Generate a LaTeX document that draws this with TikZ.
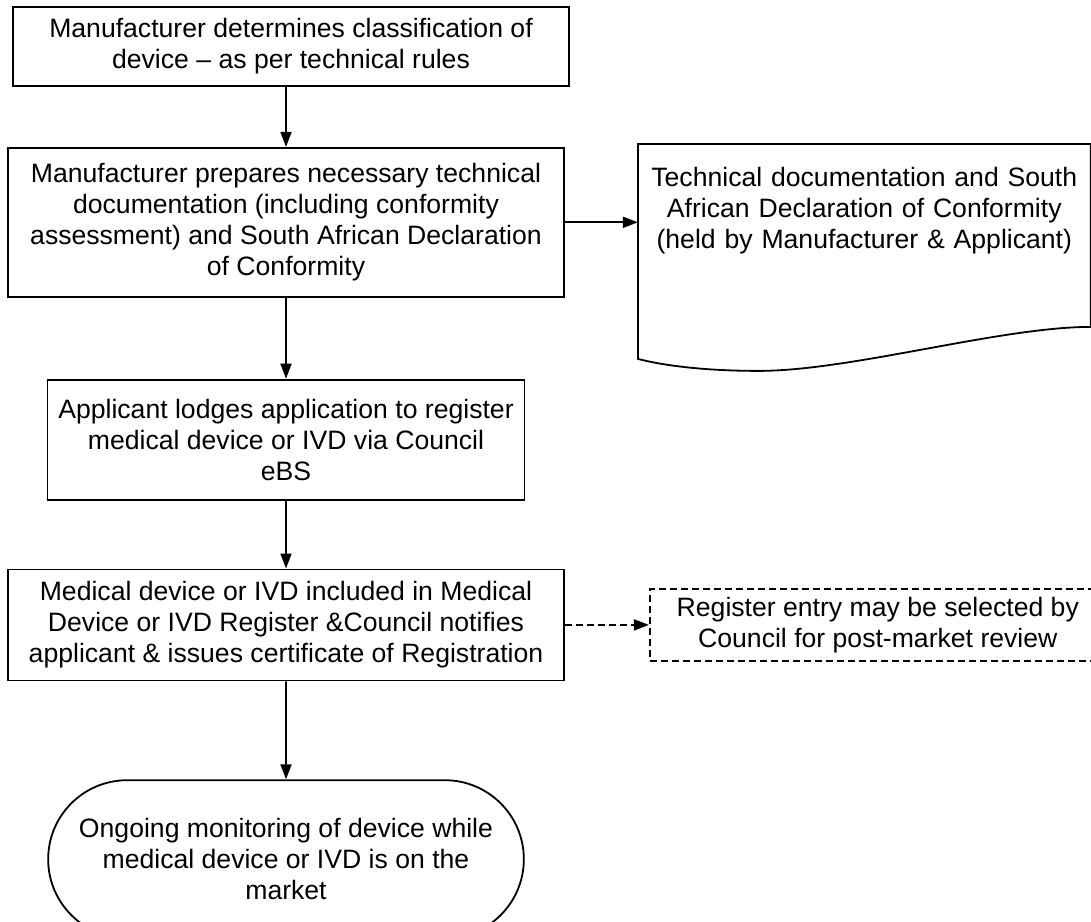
\documentclass[tikz,border=0pt]{standalone}
\usepackage{fontspec}
\setmainfont{Liberation Sans}
\usetikzlibrary{shapes.misc, arrows.meta, positioning}

\begin{document}
\begin{tikzpicture}[
    node distance=30pt,
    >={Triangle[length=7.5pt,width=5.5pt]},
    every node/.style={font=\fontsize{13.3pt}{15.5pt}\selectfont},
    process/.style={
        rectangle,
        draw=black,
        line width=0.9pt,
        align=center,
        inner sep=2pt,
        minimum width=278pt
    },
    record/.style={
        rectangle,
        align=center,
        inner xsep=0pt,
        inner ysep=11.5pt,
        text width=226pt
    },
    note/.style={
        rectangle,
        draw=black,
        dash pattern=on 3.5pt off 2pt,
        line width=0.9pt,
        align=center,
        minimum width=228pt,
        minimum height=36pt
    },
    terminal/.style={
        rounded rectangle,
        draw=black,
        line width=0.9pt,
        align=center,
        minimum width=244.5pt,
        minimum height=79pt
    }
]

    \useasboundingbox (0,0) rectangle (545.5pt,-460.5pt);

    % 1. Classification (Top)
    \node (classify) [process, minimum height=39.5pt] at (145.5pt,-23.25pt) {
        Manufacturer determines classification of \\
        device -- as per technical rules
    };

    % 2. Technical documentation
    \node (prepare) [process, minimum height=74.5pt, below=30pt of classify, xshift=-2.5pt] {
        Manufacturer prepares necessary technical \\
        documentation (including conformity \\
        assessment) and South African Declaration \\
        of Conformity
    };

    % 3. Documents held (Right of 2)
    \node (docs) [record, right=36.5pt of prepare.north east, anchor=north west, yshift=1.5pt] {
        Technical documentation and South \\
        African Declaration of Conformity \\
        (held by Manufacturer \& Applicant)
    };
    \draw[line width=0.9pt] (docs.north west) -- (docs.north east)
        -- ([yshift=-24.7pt]docs.south east)
        .. controls +(-45pt,0pt) and +(46pt,0pt) .. ([xshift=60.5pt,yshift=-46.7pt]docs.south west)
        .. controls +(-29pt,0pt) and +(11.5pt,-3pt) .. ([yshift=-40.7pt]docs.south west)
        -- cycle;

    % 4. Application
    \node (lodge) [process, minimum width=238.5pt, minimum height=60pt, below=40.5pt of prepare] {
        Applicant lodges application to register \\
        medical device or IVD via Council \\
        eBS
    };

    % 5. Register
    \node (register) [process, minimum height=55.5pt, below=34pt of lodge] {
        Medical device or IVD included in Medical \\
        Device or IVD Register \&Council notifies \\
        applicant \& issues certificate of Registration
    };

    % 6. Review (Right of 5)
    \node (review) [note, right=42pt of register] {
        Register entry may be selected by \\
        Council for post-market review
    };

    % 7. Monitoring (Bottom)
    \node (monitor) [terminal, below=49pt of register] {
        Ongoing monitoring of device while \\
        medical device or IVD is on the \\
        market
    };

    % Flow
    \draw[->, line width=0.9pt] (classify.south -| prepare.north) -- (prepare.north);
    \draw[->, line width=0.9pt] (prepare.east) -- (prepare.east -| docs.west);
    \draw[->, line width=0.9pt] (prepare) -- (lodge);
    \draw[->, line width=0.9pt] (lodge) -- (register);
    \draw[->, line width=0.9pt, dash pattern=on 3.5pt off 2pt] (register) -- (review);
    \draw[->, line width=0.9pt] (register) -- (monitor);

\end{tikzpicture}
\end{document}
